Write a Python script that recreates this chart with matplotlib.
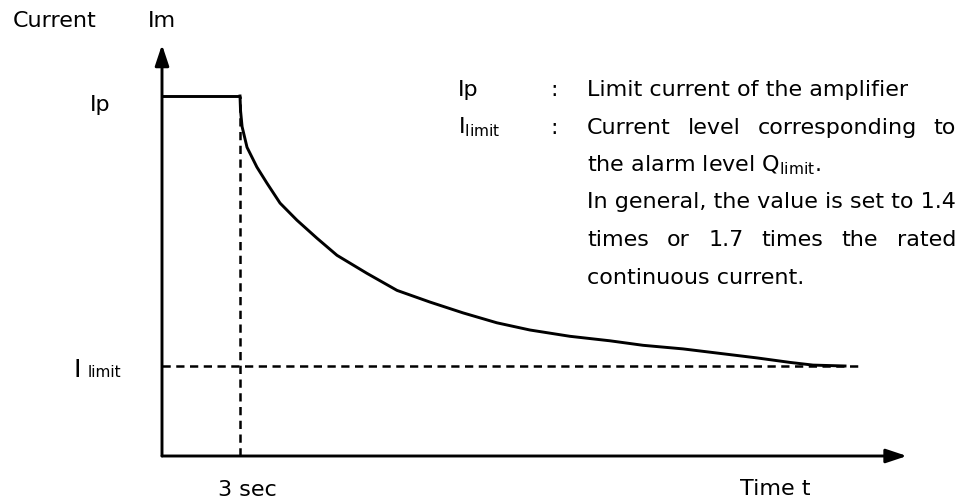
import matplotlib
matplotlib.use("Agg")
import matplotlib.pyplot as plt

plt.rcParams['font.family'] = ['DejaVu Sans']
plt.rcParams['mathtext.fontset'] = 'dejavusans'

# ---- data (time in s, current in units of I_limit) ----
Ip = 4.0
I_limit = 1.0
t_peak_end = 3.0
t_flat = [0.0, 3.0]
I_flat = [4.0, 4.0]
t_decay = [3.0, 3.02, 3.08, 3.27, 3.65, 4.04, 4.54, 5.19, 5.96, 6.73, 7.88, 9.04, 10.31,
           11.58, 12.88, 14.15, 15.69, 17.23, 18.5, 20.04, 21.46, 22.88, 24.15, 25.04, 26.27]
I_decay = [4.0, 3.84, 3.66, 3.43, 3.21, 3.03, 2.81, 2.62, 2.42, 2.23, 2.03, 1.84, 1.71,
           1.59, 1.48, 1.4, 1.33, 1.28, 1.23, 1.19, 1.14, 1.09, 1.04, 1.01, 1.0]
t_limit_end = 26.85
t_axis_end = 28.65
I_axis_end = 4.57

W, H = 971, 500
fig = plt.figure(figsize=(W / 100, H / 100), dpi=100)
ax = fig.add_axes([0, 0, 1, 1])
# origin at pixel (162, 456); 26 px per second, 90 px per current unit
ax.set_xlim(-162 / 26, (W - 162) / 26)
ax.set_ylim(-(H - 456) / 90, 456 / 90)
ax.axis('off')

lw = 2.1
ax.plot(t_flat, I_flat, color='black', lw=lw, solid_capstyle='butt')
ax.plot(t_decay, I_decay, color='black', lw=lw, solid_joinstyle='round')
ax.plot([0, t_limit_end], [I_limit, I_limit], color='black', lw=1.8, dashes=(3.3, 2.2))
ax.plot([t_peak_end, t_peak_end], [0, Ip], color='black', lw=1.8, dashes=(3.3, 2.2))

arrow = dict(arrowstyle='-|>,head_length=0.9,head_width=0.3', color='black', lw=lw,
             shrinkA=0, shrinkB=0, mutation_scale=14)
ax.annotate('', xy=(0, I_axis_end), xytext=(0, 0), arrowprops=arrow)
ax.annotate('', xy=(t_axis_end, 0), xytext=(0, 0), arrowprops=arrow)


def px(x, y):
    return x / W, 1 - y / H


fs = 16


def txt(x, y, s, size=fs, **kw):
    return fig.text(*px(x, y), s, fontsize=size, va='baseline', ha='left', **kw)


txt(13, 27, 'Current')
txt(148, 27, 'Im')
txt(90, 111, 'Ip')
txt(74, 377, 'I', size=18)
txt(88, 377, 'limit', size=11)
txt(218, 496, '3 sec')
txt(740, 495, 'Time t')

# legend-like description
txt(458, 96, 'Ip')
txt(458, 133.5, r'I$_{\mathrm{limit}}$')
txt(550, 96, ':')
txt(550, 133.5, ':')

L = 587
base0, step = 96, 37.5
lines = [
    ('Limit current of the amplifier', False),
    ('Current level corresponding to', True),
    (r'the alarm level Q$_{\mathrm{limit}}$.', False),
    ('In general, the value is set to 1.4', False),
    ('times or 1.7 times the rated', True),
    ('continuous current.', False),
]

renderer = fig.canvas.get_renderer()
# right margin = natural width of the longest line
probe = txt(L, 0, lines[3][0])
R = L + probe.get_window_extent(renderer).width
probe.remove()

for i, (s, just) in enumerate(lines):
    y = base0 + step * i
    if not just:
        txt(L, y, s)
        continue
    words = s.split(' ')
    objs = [txt(0, y, w_) for w_ in words]
    widths = [o.get_window_extent(renderer).width for o in objs]
    gap = (R - L - sum(widths)) / (len(words) - 1)
    x = L
    for o, wd in zip(objs, widths):
        o.set_position(px(x, y))
        x += wd + gap

fig.savefig('out.png', dpi=100)
